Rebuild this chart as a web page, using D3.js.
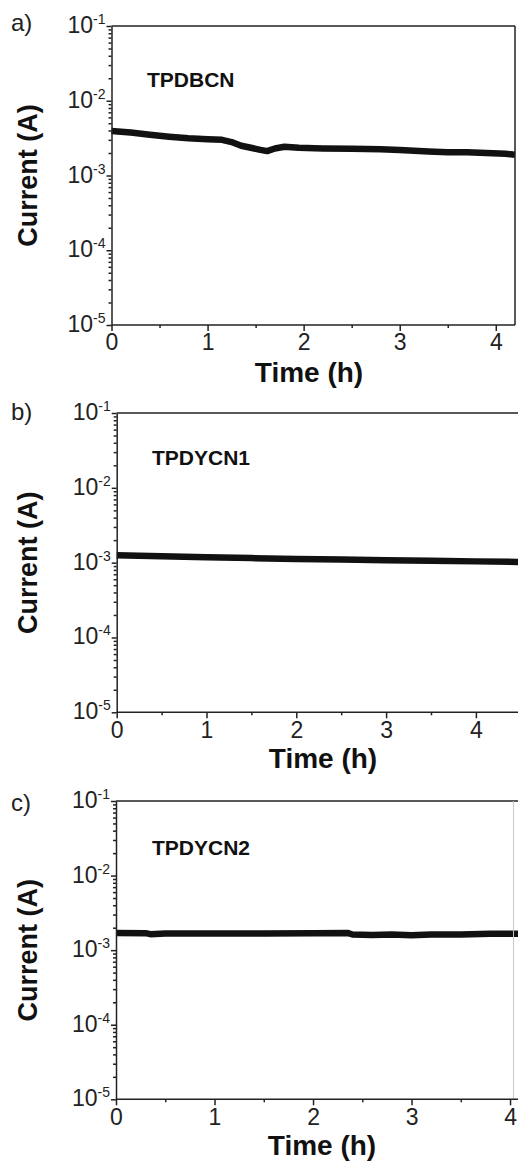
<!DOCTYPE html>
<html>
<head>
<meta charset="utf-8">
<script src="https://cdn.jsdelivr.net/npm/d3@7"></script>
<style>
  body { margin: 0; background: #fff; }
  svg { display: block; font-family: "Liberation Sans", Arial, sans-serif; }
  .axis path, .axis line { stroke: #222; stroke-width: 1.5; }
  .axis text { fill: #222; }
</style>
</head>
<body>
<div id="chart"></div>
<script>
// time (h) and current (A)
const timeA = [0, 0.2, 0.4, 0.6, 0.8, 1.0, 1.15, 1.25, 1.35, 1.45, 1.55, 1.62, 1.7, 1.8, 1.95, 2.2, 2.5, 2.8, 3.0, 3.3, 3.5, 3.7, 3.9, 4.1, 4.2];
const currentA = [3.95e-3, 3.75e-3, 3.5e-3, 3.3e-3, 3.15e-3, 3.05e-3, 3.0e-3, 2.8e-3, 2.5e-3, 2.35e-3, 2.2e-3, 2.12e-3, 2.3e-3, 2.42e-3, 2.35e-3, 2.3e-3, 2.28e-3, 2.25e-3, 2.2e-3, 2.1e-3, 2.05e-3, 2.05e-3, 2.0e-3, 1.95e-3, 1.9e-3];

const timeB = [0, 0.5, 1, 1.5, 2, 2.5, 3, 3.5, 4, 4.5];
const currentB = [1.26e-3, 1.22e-3, 1.18e-3, 1.15e-3, 1.12e-3, 1.1e-3, 1.08e-3, 1.06e-3, 1.04e-3, 1.02e-3];

const timeC = [0, 0.3, 0.35, 0.5, 1, 1.5, 2, 2.35, 2.4, 2.6, 2.8, 3.0, 3.2, 3.5, 3.8, 4.1];
const currentC = [1.70e-3, 1.69e-3, 1.64e-3, 1.67e-3, 1.67e-3, 1.67e-3, 1.68e-3, 1.70e-3, 1.62e-3, 1.60e-3, 1.62e-3, 1.58e-3, 1.62e-3, 1.62e-3, 1.66e-3, 1.66e-3];

const yDecades = [-1, -2, -3, -4, -5];
const sampleNames = ["TPDBCN", "TPDYCN1", "TPDYCN2"];
const panelLetters = ["a)", "b)", "c)"];
const xMaxes = [4.2, 4.5, 4.1];

// layout of each panel in page pixels
const panels = [
  {left: 111.5, top: 26, bottom: 325, right: 515, xLab: 309, xLabY: 382, letterY: 31, nameY: 87, faintRight: false},
  {left: 116.7, top: 413, bottom: 712.3, right: 520.8, xLab: 323, xLabY: 768, letterY: 420, nameY: 465, faintRight: false},
  {left: 116, top: 801, bottom: 1099.3, right: 519.9, xLab: 322, xLabY: 1155, letterY: 811, nameY: 855, faintRight: true}
];
const series = [[timeA, currentA], [timeB, currentB], [timeC, currentC]];

const svg = d3.select("#chart").append("svg")
  .attr("width", 518)
  .attr("height", 1161);

panels.forEach(function (p, i) {
  const x = d3.scaleLinear().domain([0, xMaxes[i]]).range([p.left, p.right]);
  const y = d3.scaleLog().domain([1e-5, 1e-1]).range([p.bottom, p.top]);

  const g = svg.append("g");

  // data trace
  const pts = series[i][0].map(function (t, k) { return [t, series[i][1][k]]; });
  g.append("path")
    .datum(pts)
    .attr("fill", "none")
    .attr("stroke", "#111")
    .attr("stroke-width", 6.5)
    .attr("stroke-linejoin", "round")
    .attr("d", d3.line().x(function (d) { return x(d[0]); }).y(function (d) { return y(d[1]); }));

  // frame: top + right
  g.append("line")
    .attr("x1", p.left).attr("x2", Math.min(p.right, 520))
    .attr("y1", p.top).attr("y2", p.top)
    .attr("stroke", "#222").attr("stroke-width", 1.5);
  if (p.right < 518) {
    g.append("line")
      .attr("x1", p.right).attr("x2", p.right)
      .attr("y1", p.top).attr("y2", p.bottom)
      .attr("stroke", "#222").attr("stroke-width", 1.5);
  }
  if (p.faintRight) {
    g.append("line")
      .attr("x1", 513.5).attr("x2", 513.5)
      .attr("y1", p.top).attr("y2", p.bottom)
      .attr("stroke", "#c8c8c8").attr("stroke-width", 1);
  }

  // x axis
  const xTicks = d3.range(0, xMaxes[i] + 0.001, 0.5);
  const xAxis = g.append("g")
    .attr("class", "axis")
    .attr("transform", "translate(0," + p.bottom + ")")
    .call(d3.axisBottom(x).tickValues(xTicks).tickSizeOuter(0)
      .tickFormat(function (d) { return Number.isInteger(d) ? d : ""; }));
  xAxis.selectAll(".tick line")
    .attr("y2", function (d) { return Number.isInteger(d) ? 6 : 3; });
  xAxis.selectAll(".tick text")
    .attr("y", 9)
    .attr("font-size", 23);
  xAxis.select(".domain").attr("d", "M" + p.left + ",0H" + Math.min(p.right, 520));

  // y axis, log ticks
  const yTicks = [];
  for (var e = -5; e < -1; e++) {
    for (var m = 1; m < 10; m++) yTicks.push(m * Math.pow(10, e));
  }
  yTicks.push(1e-1);
  const yAxis = g.append("g")
    .attr("class", "axis")
    .attr("transform", "translate(" + p.left + ",0)")
    .call(d3.axisLeft(y).tickValues(yTicks).tickSizeOuter(0).tickFormat(""));
  yAxis.selectAll(".tick line")
    .attr("x2", function (d) {
      const l = Math.log10(d);
      return Math.abs(l - Math.round(l)) < 1e-6 ? -5 : -3;
    });

  yDecades.forEach(function (dec) {
    const t = g.append("text")
      .attr("x", p.left - 6)
      .attr("y", y(Math.pow(10, dec)) + 7)
      .attr("text-anchor", "end")
      .attr("font-size", 23)
      .attr("fill", "#222");
    t.append("tspan").text("10");
    t.append("tspan").attr("dy", -9).attr("font-size", 14).text(String(dec));
  });

  // axis titles
  g.append("text")
    .attr("x", p.xLab)
    .attr("y", p.xLabY)
    .attr("text-anchor", "middle")
    .attr("font-size", 28)
    .attr("font-weight", "bold")
    .attr("fill", "#111")
    .text("Time (h)");

  g.append("text")
    .attr("transform", "translate(37," + ((p.top + p.bottom) / 2) + ") rotate(-90)")
    .attr("text-anchor", "middle")
    .attr("font-size", 27)
    .attr("font-weight", "bold")
    .attr("fill", "#111")
    .text("Current (A)");

  g.append("text")
    .attr("x", 11)
    .attr("y", p.letterY)
    .attr("font-size", 24)
    .attr("fill", "#222")
    .text(panelLetters[i]);

  g.append("text")
    .attr("x", i === 0 ? 147 : 152)
    .attr("y", p.nameY)
    .attr("font-size", 21)
    .attr("font-weight", "bold")
    .attr("fill", "#111")
    .text(sampleNames[i]);
});
</script>
</body>
</html>
